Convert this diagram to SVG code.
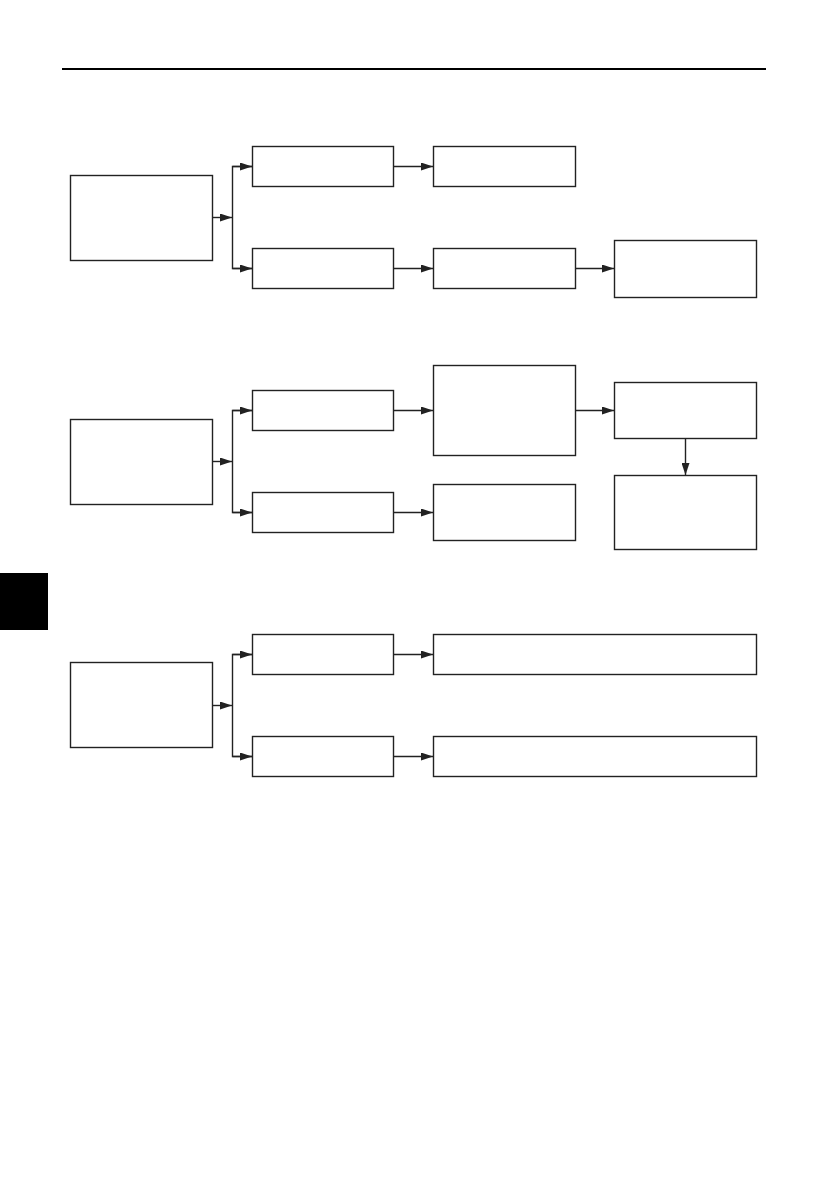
<svg xmlns="http://www.w3.org/2000/svg" width="838" height="1192" viewBox="0 0 838 1192">
<style>
.n{fill:#fff;stroke:#222;stroke-width:1.4}
.c{fill:none;stroke:#222;stroke-width:1.4}
</style>
<defs>
<marker id="a" viewBox="0 0 12 8" refX="12" refY="4" markerWidth="12" markerHeight="8" markerUnits="userSpaceOnUse" orient="auto">
<path d="M0,0 L12,4 L0,8 Z" fill="#222"/>
</marker>
</defs>
<rect width="838" height="1192" fill="#fff"/>
<line x1="62" y1="69" x2="766" y2="69" stroke="#000" stroke-width="2"/>
<rect x="0" y="573" width="48" height="57" fill="#000"/>

<g id="s1a"><rect class="n" x="70.5" y="175.5" width="142" height="85"/></g>
<g id="s1b"><rect class="n" x="252.5" y="146.5" width="141" height="40"/></g>
<g id="s1c"><rect class="n" x="433.5" y="146.5" width="142" height="40"/></g>
<g id="s1d"><rect class="n" x="252.5" y="248.5" width="141" height="40"/></g>
<g id="s1e"><rect class="n" x="433.5" y="248.5" width="142" height="40"/></g>
<g id="s1f"><rect class="n" x="614.5" y="240.5" width="142" height="57"/></g>

<g id="s2a"><rect class="n" x="70.5" y="419.5" width="142" height="85"/></g>
<g id="s2b"><rect class="n" x="252.5" y="390.5" width="141" height="40"/></g>
<g id="s2c"><rect class="n" x="433.5" y="365.5" width="142" height="90"/></g>
<g id="s2d"><rect class="n" x="614.5" y="382.5" width="142" height="56"/></g>
<g id="s2e"><rect class="n" x="614.5" y="475.5" width="142" height="74"/></g>
<g id="s2f"><rect class="n" x="252.5" y="492.5" width="141" height="40"/></g>
<g id="s2g"><rect class="n" x="433.5" y="484.5" width="142" height="56"/></g>

<g id="s3a"><rect class="n" x="70.5" y="662.5" width="142" height="85"/></g>
<g id="s3b"><rect class="n" x="252.5" y="634.5" width="141" height="40"/></g>
<g id="s3c"><rect class="n" x="433.5" y="634.5" width="323" height="40"/></g>
<g id="s3d"><rect class="n" x="252.5" y="736.5" width="141" height="40"/></g>
<g id="s3e"><rect class="n" x="433.5" y="736.5" width="323" height="40"/></g>

<g id="connectors">
<line class="c" x1="212.5" y1="217.5" x2="232" y2="217.5" marker-end="url(#a)"/>
<polyline class="c" points="252,166.5 232.5,166.5 232.5,268.5 252,268.5"/>
<line class="c" x1="232.5" y1="166.5" x2="252" y2="166.5" marker-end="url(#a)"/>
<line class="c" x1="232.5" y1="268.5" x2="252" y2="268.5" marker-end="url(#a)"/>
<line class="c" x1="393.5" y1="166.5" x2="433" y2="166.5" marker-end="url(#a)"/>
<line class="c" x1="393.5" y1="268.5" x2="433" y2="268.5" marker-end="url(#a)"/>
<line class="c" x1="575.5" y1="268.5" x2="614" y2="268.5" marker-end="url(#a)"/>

<line class="c" x1="212.5" y1="461.5" x2="232" y2="461.5" marker-end="url(#a)"/>
<polyline class="c" points="252,410.5 232.5,410.5 232.5,512.5 252,512.5"/>
<line class="c" x1="232.5" y1="410.5" x2="252" y2="410.5" marker-end="url(#a)"/>
<line class="c" x1="232.5" y1="512.5" x2="252" y2="512.5" marker-end="url(#a)"/>
<line class="c" x1="393.5" y1="410.5" x2="433" y2="410.5" marker-end="url(#a)"/>
<line class="c" x1="393.5" y1="512.5" x2="433" y2="512.5" marker-end="url(#a)"/>
<line class="c" x1="575.5" y1="410.5" x2="614" y2="410.5" marker-end="url(#a)"/>
<line class="c" x1="685.5" y1="438.5" x2="685.5" y2="475" marker-end="url(#a)"/>

<line class="c" x1="212.5" y1="705.5" x2="232" y2="705.5" marker-end="url(#a)"/>
<polyline class="c" points="252,654.5 232.5,654.5 232.5,756.5 252,756.5"/>
<line class="c" x1="232.5" y1="654.5" x2="252" y2="654.5" marker-end="url(#a)"/>
<line class="c" x1="232.5" y1="756.5" x2="252" y2="756.5" marker-end="url(#a)"/>
<line class="c" x1="393.5" y1="654.5" x2="433" y2="654.5" marker-end="url(#a)"/>
<line class="c" x1="393.5" y1="756.5" x2="433" y2="756.5" marker-end="url(#a)"/>
</g>
</svg>
